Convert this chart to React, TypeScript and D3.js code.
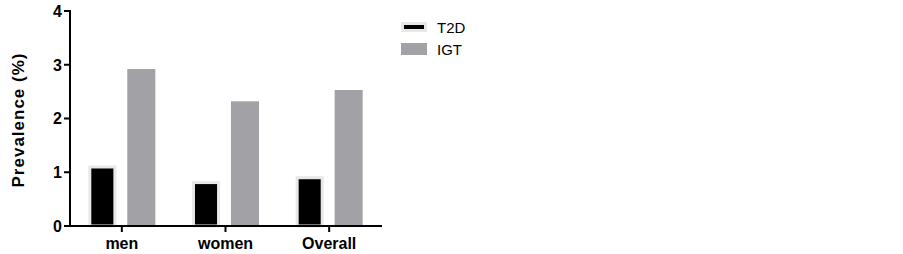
import * as d3 from 'd3';

const categories = ['men', 'women', 'Overall'];
const seriesNames = ['T2D', 'IGT'];
const t2d = [1.07, 0.78, 0.87];
const igt = [2.92, 2.32, 2.53];
const yTicks = [0, 1, 2, 3, 4];

const colors: Record<string, string> = { T2D: '#000000', IGT: '#a2a1a6' };
const halo = '#e8e8e8';
const font = '"Liberation Sans", Arial, Helvetica, sans-serif';

export default function App() {
  const W = 903;
  const H = 254;

  const y = d3.scaleLinear().domain([0, 4]).range([226, 11]);
  const x = d3.scaleBand<string>().domain(categories).range([70, 381]).padding(0);
  const half = x.bandwidth() / 2;
  const sub = d3.scaleBand<string>().domain(seriesNames).range([-half, half])
    .paddingInner(0.28).paddingOuter(0.47);
  const bw = sub.bandwidth();

  const rows = categories.map((c, i) => ({ c, T2D: t2d[i], IGT: igt[i] }));

  return (
    <svg width={W} height={H} style={{ position: 'absolute', left: 0, top: 0, background: '#fff' }}>
      {/* bars */}
      {rows.map((r) => {
        const cx = (x(r.c) ?? 0) + half;
        return (
          <g key={r.c}>
            {seriesNames.map((s) => {
              const v = r[s as 'T2D' | 'IGT'];
              const bx = cx + (sub(s) ?? 0);
              if (s === 'T2D') {
                return (
                  <rect key={s} x={bx + 1.5} y={y(v) - 1.5} width={bw - 3} height={y(0) - y(v) + 1.5}
                    fill={colors[s]} stroke={halo} strokeWidth={3} />
                );
              }
              return (
                <rect key={s} x={bx} y={y(v)} width={bw} height={y(0) - y(v)} fill={colors[s]} />
              );
            })}
          </g>
        );
      })}

      {/* y axis */}
      <line x1={70} x2={70} y1={y(4) - 1} y2={y(0) + 1} stroke="#000" strokeWidth={2} />
      {yTicks.map((t) => (
        <g key={t} transform={`translate(0,${y(t)})`}>
          <line x1={64} x2={70} stroke="#000" strokeWidth={2} />
          <text x={62} dy="0.36em" textAnchor="end" fontFamily={font} fontWeight="bold" fontSize={16}>{t}</text>
        </g>
      ))}
      <text transform={`translate(24,120) rotate(-90)`} textAnchor="middle"
        fontFamily={font} fontWeight="bold" fontSize={17} letterSpacing={1}>Prevalence (%)</text>

      {/* x axis */}
      <line x1={65} x2={382} y1={y(0)} y2={y(0)} stroke="#000" strokeWidth={2} />
      {categories.map((c) => {
        const cx = (x(c) ?? 0) + half;
        return (
          <g key={c} transform={`translate(${cx},${y(0)})`}>
            <line y1={0} y2={6} stroke="#000" strokeWidth={2} />
            <text y={23} textAnchor="middle" fontFamily={font} fontWeight="bold" fontSize={16}>{c}</text>
          </g>
        );
      })}

      {/* legend */}
      <g transform="translate(401,22)">
        <rect x={1.5} y={1.5} width={23} height={7} fill={colors.T2D} stroke={halo} strokeWidth={3} />
        <text x={36} y={5.3} dy="0.35em" fontFamily={font} fontSize={15}>{seriesNames[0]}</text>
      </g>
      <g transform="translate(401,43)">
        <rect x={0} y={0} width={26} height={12} fill={colors.IGT} />
        <text x={36} y={6.5} dy="0.35em" fontFamily={font} fontSize={15}>{seriesNames[1]}</text>
      </g>
    </svg>
  );
}
